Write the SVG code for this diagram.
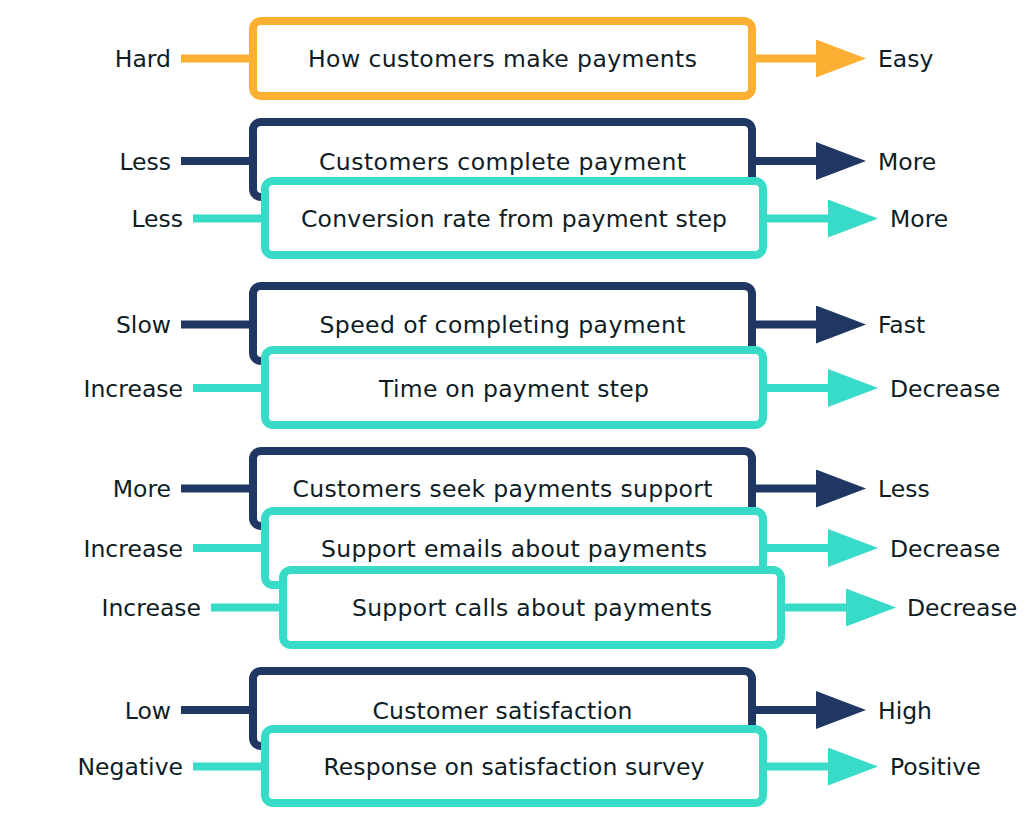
<svg xmlns="http://www.w3.org/2000/svg" width="1029" height="832" viewBox="0 0 1029 832">
<defs>
<style>
.bg{fill:#ffffff}
.box{fill:#ffffff;stroke-width:8}
.o{stroke:#fbb034}
.n{stroke:#213763}
.t{stroke:#38dbc8}
.ln{fill:none;stroke-width:8;stroke-linecap:butt}
.txt{font-family:"DejaVu Sans","Liberation Sans",sans-serif;font-size:23.5px;fill:#0e1c24}
.m{text-anchor:middle}
.r{text-anchor:end}
</style>
<marker id="ao" markerUnits="userSpaceOnUse" markerWidth="50" markerHeight="38" refX="0" refY="19" orient="auto" viewBox="0 0 50 38"><path d="M0,0 L50,19 L0,38 Z" fill="#fbb034"/></marker>
<marker id="an" markerUnits="userSpaceOnUse" markerWidth="50" markerHeight="38" refX="0" refY="19" orient="auto" viewBox="0 0 50 38"><path d="M0,0 L50,19 L0,38 Z" fill="#213763"/></marker>
<marker id="at" markerUnits="userSpaceOnUse" markerWidth="50" markerHeight="38" refX="0" refY="19" orient="auto" viewBox="0 0 50 38"><path d="M0,0 L50,19 L0,38 Z" fill="#38dbc8"/></marker>
</defs>
<rect class="bg" x="0" y="0" width="1029" height="832"/>
<g id="connectors">
<path class="ln o" d="M181,58.5 H253"/>
<path class="ln o" d="M752,58.5 H816" marker-end="url(#ao)"/>
<path class="ln n" d="M181,161 H253"/>
<path class="ln n" d="M752,161 H816" marker-end="url(#an)"/>
<path class="ln t" d="M193,218.5 H265"/>
<path class="ln t" d="M763,218.5 H828" marker-end="url(#at)"/>
<path class="ln n" d="M181,324.5 H253"/>
<path class="ln n" d="M752,324.5 H816" marker-end="url(#an)"/>
<path class="ln t" d="M193,388 H265"/>
<path class="ln t" d="M763,388 H828" marker-end="url(#at)"/>
<path class="ln n" d="M181,488.5 H253"/>
<path class="ln n" d="M752,488.5 H816" marker-end="url(#an)"/>
<path class="ln t" d="M193,548 H265"/>
<path class="ln t" d="M763,548 H828" marker-end="url(#at)"/>
<path class="ln t" d="M211,607.5 H283"/>
<path class="ln t" d="M781,607.5 H846" marker-end="url(#at)"/>
<path class="ln n" d="M181,710 H253"/>
<path class="ln n" d="M752,710 H816" marker-end="url(#an)"/>
<path class="ln t" d="M193,766.5 H265"/>
<path class="ln t" d="M763,766.5 H828" marker-end="url(#at)"/>
</g>
<g id="node-payments">
<rect class="box o" x="253" y="21" width="499" height="75" rx="8"/>
<text class="txt m" x="502.5" y="67" textLength="389" lengthAdjust="spacing">How customers make payments</text>
<text class="txt r" x="171" y="67">Hard</text>
<text class="txt" x="878" y="67">Easy</text>
</g>
<g id="node-complete">
<rect class="box n" x="253" y="122" width="499" height="75" rx="8"/>
<text class="txt m" x="502.5" y="169.5" textLength="367" lengthAdjust="spacing">Customers complete payment</text>
<text class="txt r" x="171" y="169.5">Less</text>
<text class="txt" x="878" y="169.5">More</text>
</g>
<g id="node-conversion">
<rect class="box t" x="265" y="181" width="498" height="74" rx="8"/>
<text class="txt m" x="514" y="227" textLength="426" lengthAdjust="spacing">Conversion rate from payment step</text>
<text class="txt r" x="183" y="227">Less</text>
<text class="txt" x="890" y="227">More</text>
</g>
<g id="node-speed">
<rect class="box n" x="253" y="286" width="499" height="75" rx="8"/>
<text class="txt m" x="502.5" y="333" textLength="366" lengthAdjust="spacing">Speed of completing payment</text>
<text class="txt r" x="171" y="333">Slow</text>
<text class="txt" x="878" y="333">Fast</text>
</g>
<g id="node-time">
<rect class="box t" x="265" y="350" width="498" height="75" rx="8"/>
<text class="txt m" x="514" y="396.5" textLength="270" lengthAdjust="spacing">Time on payment step</text>
<text class="txt r" x="183" y="396.5">Increase</text>
<text class="txt" x="890" y="396.5">Decrease</text>
</g>
<g id="node-support">
<rect class="box n" x="253" y="451" width="499" height="75" rx="8"/>
<text class="txt m" x="502.5" y="497" textLength="420" lengthAdjust="spacing">Customers seek payments support</text>
<text class="txt r" x="171" y="497">More</text>
<text class="txt" x="878" y="497">Less</text>
</g>
<g id="node-emails">
<rect class="box t" x="265" y="511" width="498" height="74" rx="8"/>
<text class="txt m" x="514" y="556.5" textLength="386" lengthAdjust="spacing">Support emails about payments</text>
<text class="txt r" x="183" y="556.5">Increase</text>
<text class="txt" x="890" y="556.5">Decrease</text>
</g>
<g id="node-calls">
<rect class="box t" x="283" y="570" width="498" height="75" rx="8"/>
<text class="txt m" x="532" y="616" textLength="360" lengthAdjust="spacing">Support calls about payments</text>
<text class="txt r" x="201" y="616">Increase</text>
<text class="txt" x="907" y="616">Decrease</text>
</g>
<g id="node-satisfaction">
<rect class="box n" x="253" y="671" width="499" height="75" rx="8"/>
<text class="txt m" x="502.5" y="718.5" textLength="260" lengthAdjust="spacing">Customer satisfaction</text>
<text class="txt r" x="171" y="718.5">Low</text>
<text class="txt" x="878" y="718.5">High</text>
</g>
<g id="node-survey">
<rect class="box t" x="265" y="729" width="498" height="74" rx="8"/>
<text class="txt m" x="514" y="775" textLength="381" lengthAdjust="spacing">Response on satisfaction survey</text>
<text class="txt r" x="183" y="775">Negative</text>
<text class="txt" x="890" y="775">Positive</text>
</g>
</svg>
